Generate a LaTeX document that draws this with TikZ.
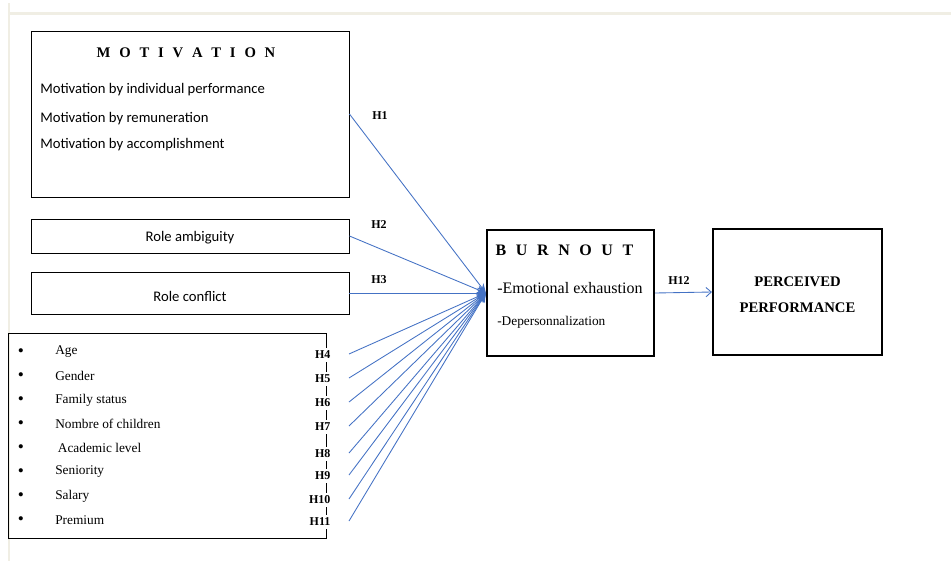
\documentclass[tikz,border=0pt]{standalone}
\usepackage{fontspec}
\setmainfont{Liberation Serif}
\newfontfamily\calibri{Carlito}
\usetikzlibrary{arrows.meta}
\definecolor{linkblue}{RGB}{68,114,196}
\definecolor{pagerule}{RGB}{240,238,228}
\newcommand\spaced[1]{{\spaceskip=0.6em\relax #1}}

\begin{document}
\begin{tikzpicture}[x=0.75pt,y=-0.75pt,
    box/.style={draw,line width=0.7pt,rectangle,inner sep=0pt,minimum width=238.5pt},
    thickbox/.style={draw,line width=1.6pt,rectangle,inner sep=0pt,minimum height=94.5pt},
    hyp/.style={font=\fontsize{9}{10}\selectfont\bfseries,inner sep=1pt},
    link/.style={draw=linkblue,line width=0.65pt,-{Stealth[length=7pt,width=6pt]}}]
      \useasboundingbox (0,0) rectangle (951,561);
      % page rules
      \draw[pagerule,line width=2.2pt] (9,3) -- (9,561);
      \draw[pagerule,line width=2.2pt] (9,13.5) -- (951,13.5);

      % left column
      \node[box,minimum height=124.5pt] (motiv) at (190,114) {};
      \node (motivtitle) at (186,53)
        {\fontsize{11}{13}\selectfont\bfseries\spaced{M O T I V A T I O N}};
      \begin{scope}[every node/.style={anchor=west,inner sep=0pt,font=\calibri\fontsize{11}{13}\selectfont}]
        \node (m1) at (40,90) {Motivation by individual performance};
        \node (m2) at (40,119) {Motivation by remuneration};
        \node (m3) at (40,145) {Motivation by accomplishment};
      \end{scope}
      \node[box,minimum height=25.5pt] (ambig) at (190,236) {};
      \node[font=\calibri\fontsize{11}{13}\selectfont,inner sep=0pt] (ambigtext) at (190,238) {Role ambiguity};
      \node[box,minimum height=31.5pt] (confl) at (190,293) {};
      \node[font=\calibri\fontsize{11}{13}\selectfont,inner sep=0pt] (confltext) at (190,296) {Role conflict};
      \node[box,minimum height=153.75pt] (demo) at (167,435.5) {};
      \foreach \item [count=\i] in {Age,Gender,Family status,Nombre of children,
          {\hspace{2pt}Academic level},Seniority,Salary,Premium} {
        \node[inner sep=0pt,font=\fontsize{13}{14}\selectfont] (b\i) at (21,353+24*\i-24) {\textbullet};
        \node[anchor=west,inner sep=0pt,font=\fontsize{10}{12}\selectfont] (d\i) at (55,352+24*\i-24) {\item};
      }

      % right column
      \node[thickbox,minimum width=125.25pt] (burn) at (570.5,293) {};
      \node (burntitle) at (564.5,250)
        {\fontsize{12}{14}\selectfont\bfseries\spaced{B U R N O U T}};
      \node[anchor=west,inner sep=0pt,font=\fontsize{12}{14}\selectfont] (e1) at (497,288) {-Emotional exhaustion};
      \node[anchor=west,inner sep=0pt,font=\fontsize{10}{12}\selectfont] (e2) at (497,322) {-Depersonnalization};
      \node[thickbox,minimum width=126.75pt] (perc) at (797.5,292) {};
      \node[align=center,inner sep=0pt,font=\fontsize{11}{19.5}\selectfont\bfseries] (perctext) at (797.5,295)
        {PERCEIVED\\PERFORMANCE};

      % hypotheses
      \draw[link] (motiv.east) -- (burn.west);
      \draw[link] (ambig.east) -- (burn.west);
      \draw[link] (confl.east |- burn.west) -- (burn.west);
      \node[hyp] (h1) at (380,116) {H1};
      \node[hyp] (h2) at (379,225) {H2};
      \node[hyp] (h3) at (379,280) {H3};
      \foreach \n/\y in {4/355,5/379,6/403,7/427,8/454,9/476,10/500,11/522} {
        \node[hyp,fill=white,inner ysep=2.5pt,anchor=east] (h\n) at (332,\y) {H\n};
        \coordinate (s\n) at (349,\y-1);
        \draw[link] (s\n) -- (burn.west);
      }
      \draw[draw=linkblue,line width=0.65pt,-{Straight Barb[length=4pt,width=7pt]}] (burn.east) -- (perc.west);
      \node[hyp] (h12) at (679,281) {H12};
    \end{tikzpicture}
\end{document}
